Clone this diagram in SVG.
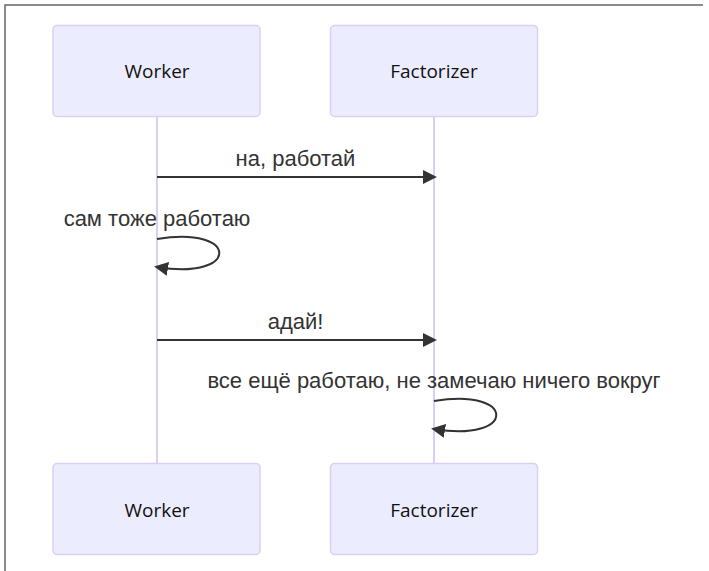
<svg xmlns="http://www.w3.org/2000/svg" width="709" height="571" viewBox="0 0 709 571">
<style>
.actor rect{fill:#ECECFF;stroke:#DACEF3;stroke-width:1.5}
.actor text{font-family:"Open Sans","Noto Sans",sans-serif;font-size:19px;fill:#111;text-anchor:middle}
.lifeline{stroke:#DACEF3;stroke-width:2}
.msg{stroke:#333;stroke-width:2;fill:none}
.lbl{font-family:"Liberation Sans",Arial,sans-serif;font-size:22px;fill:#333;text-anchor:middle}
.frame{stroke:#666;stroke-width:1.5;fill:none}
</style>
<defs>
<marker id="arrowhead" viewBox="0 0 10 10" refX="7.9" refY="5" markerUnits="userSpaceOnUse" markerWidth="14" markerHeight="14" orient="auto">
<path d="M0,0 L10,5 L0,10 z" fill="#333"/>
</marker>
</defs>
<rect width="709" height="571" fill="#fff"/>
<path class="frame" d="M5,571 L5,5 L703,5"/>
<g id="lifelines">
<line class="lifeline" x1="157" y1="116" x2="157" y2="464"/>
<line class="lifeline" x1="434" y1="116" x2="434" y2="464"/>
</g>
<g id="actor-worker-top" class="actor">
<rect x="53" y="25.5" width="207" height="91" rx="4"/>
<text x="157" y="78">Worker</text>
</g>
<g id="actor-factorizer-top" class="actor">
<rect x="330.5" y="25.5" width="207" height="91" rx="4"/>
<text x="434" y="78">Factorizer</text>
</g>
<g id="actor-worker-bottom" class="actor">
<rect x="53" y="463.5" width="207" height="91" rx="4"/>
<text x="157" y="517">Worker</text>
</g>
<g id="actor-factorizer-bottom" class="actor">
<rect x="330.5" y="463.5" width="207" height="91" rx="4"/>
<text x="434" y="517">Factorizer</text>
</g>
<g id="connectors">
<line class="msg" x1="157" y1="177" x2="434" y2="177" marker-end="url(#arrowhead)"/>
<text class="lbl" x="295.5" y="166">на, работай</text>
<path class="msg" d="M157,239 C240,225 240,281 157,267" marker-end="url(#arrowhead)"/>
<text class="lbl" x="157" y="226">сам тоже работаю</text>
<line class="msg" x1="157" y1="340" x2="434" y2="340" marker-end="url(#arrowhead)"/>
<text class="lbl" x="295.5" y="329">адай!</text>
<path class="msg" d="M434,401 C517,387 517,443 434,429" marker-end="url(#arrowhead)"/>
<text class="lbl" x="434" y="388">все ещё работаю, не замечаю ничего вокруг</text>
</g>
</svg>
